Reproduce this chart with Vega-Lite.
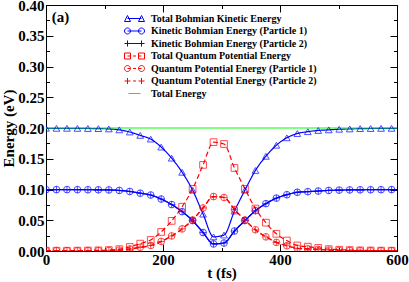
{
  "$schema": "https://vega.github.io/schema/vega-lite/v6.json",
  "width": 351,
  "height": 246,
  "autosize": {"type": "none"},
  "padding": {"left": 46, "top": 5, "right": 12, "bottom": 31},
  "datasets": {
    "energy": [
      {"t": 0, "KT": 0.1995, "K1": 0.0998, "K2": 0.0998, "QT": 0.0005, "Q1": 0.0003, "Q2": 0.0003, "E": 0.2},
      {"t": 17.9, "KT": 0.1995, "K1": 0.0998, "K2": 0.0998, "QT": 0.0005, "Q1": 0.0003, "Q2": 0.0003, "E": 0.2},
      {"t": 35.8, "KT": 0.1995, "K1": 0.0998, "K2": 0.0998, "QT": 0.0005, "Q1": 0.0003, "Q2": 0.0003, "E": 0.2},
      {"t": 53.7, "KT": 0.1994, "K1": 0.0997, "K2": 0.0997, "QT": 0.0006, "Q1": 0.0003, "Q2": 0.0003, "E": 0.2},
      {"t": 71.6, "KT": 0.1992, "K1": 0.0996, "K2": 0.0996, "QT": 0.0008, "Q1": 0.0004, "Q2": 0.0004, "E": 0.2},
      {"t": 89.5, "KT": 0.199, "K1": 0.0995, "K2": 0.0995, "QT": 0.001, "Q1": 0.0005, "Q2": 0.0005, "E": 0.2},
      {"t": 107.4, "KT": 0.1985, "K1": 0.0993, "K2": 0.0993, "QT": 0.0015, "Q1": 0.0008, "Q2": 0.0008, "E": 0.2},
      {"t": 125.3, "KT": 0.197, "K1": 0.0985, "K2": 0.0985, "QT": 0.003, "Q1": 0.0015, "Q2": 0.0015, "E": 0.2},
      {"t": 143.2, "KT": 0.1935, "K1": 0.0968, "K2": 0.0968, "QT": 0.0065, "Q1": 0.0033, "Q2": 0.0033, "E": 0.2},
      {"t": 161.1, "KT": 0.188, "K1": 0.094, "K2": 0.094, "QT": 0.012, "Q1": 0.006, "Q2": 0.006, "E": 0.2},
      {"t": 179, "KT": 0.182, "K1": 0.091, "K2": 0.091, "QT": 0.018, "Q1": 0.009, "Q2": 0.009, "E": 0.2},
      {"t": 196.9, "KT": 0.169, "K1": 0.0845, "K2": 0.0845, "QT": 0.031, "Q1": 0.0155, "Q2": 0.0155, "E": 0.2},
      {"t": 214.8, "KT": 0.151, "K1": 0.0755, "K2": 0.0755, "QT": 0.049, "Q1": 0.0245, "Q2": 0.0245, "E": 0.2},
      {"t": 232.7, "KT": 0.128, "K1": 0.064, "K2": 0.064, "QT": 0.072, "Q1": 0.036, "Q2": 0.036, "E": 0.2},
      {"t": 250.6, "KT": 0.099, "K1": 0.0495, "K2": 0.0495, "QT": 0.101, "Q1": 0.0505, "Q2": 0.0505, "E": 0.2},
      {"t": 268.5, "KT": 0.06, "K1": 0.03, "K2": 0.03, "QT": 0.14, "Q1": 0.07, "Q2": 0.07, "E": 0.2},
      {"t": 286.4, "KT": 0.023, "K1": 0.0115, "K2": 0.0115, "QT": 0.177, "Q1": 0.0885, "Q2": 0.0885, "E": 0.2},
      {"t": 304.3, "KT": 0.026, "K1": 0.013, "K2": 0.013, "QT": 0.174, "Q1": 0.087, "Q2": 0.087, "E": 0.2},
      {"t": 322.2, "KT": 0.065, "K1": 0.0325, "K2": 0.0325, "QT": 0.135, "Q1": 0.0675, "Q2": 0.0675, "E": 0.2},
      {"t": 340.1, "KT": 0.099, "K1": 0.0495, "K2": 0.0495, "QT": 0.101, "Q1": 0.0505, "Q2": 0.0505, "E": 0.2},
      {"t": 358, "KT": 0.131, "K1": 0.0655, "K2": 0.0655, "QT": 0.069, "Q1": 0.0345, "Q2": 0.0345, "E": 0.2},
      {"t": 375.9, "KT": 0.154, "K1": 0.077, "K2": 0.077, "QT": 0.046, "Q1": 0.023, "Q2": 0.023, "E": 0.2},
      {"t": 393.8, "KT": 0.172, "K1": 0.086, "K2": 0.086, "QT": 0.028, "Q1": 0.014, "Q2": 0.014, "E": 0.2},
      {"t": 411.7, "KT": 0.184, "K1": 0.0915, "K2": 0.0915, "QT": 0.017, "Q1": 0.0085, "Q2": 0.0085, "E": 0.2},
      {"t": 429.6, "KT": 0.191, "K1": 0.0955, "K2": 0.0955, "QT": 0.009, "Q1": 0.0045, "Q2": 0.0045, "E": 0.2},
      {"t": 447.5, "KT": 0.194, "K1": 0.0965, "K2": 0.0965, "QT": 0.007, "Q1": 0.0035, "Q2": 0.0035, "E": 0.2},
      {"t": 465.4, "KT": 0.196, "K1": 0.0975, "K2": 0.0975, "QT": 0.005, "Q1": 0.0025, "Q2": 0.0025, "E": 0.2},
      {"t": 483.3, "KT": 0.197, "K1": 0.0985, "K2": 0.0985, "QT": 0.003, "Q1": 0.0015, "Q2": 0.0015, "E": 0.2},
      {"t": 501.2, "KT": 0.198, "K1": 0.099, "K2": 0.099, "QT": 0.002, "Q1": 0.001, "Q2": 0.001, "E": 0.2},
      {"t": 519.1, "KT": 0.1985, "K1": 0.0993, "K2": 0.0993, "QT": 0.0015, "Q1": 0.0008, "Q2": 0.0008, "E": 0.2},
      {"t": 537, "KT": 0.199, "K1": 0.0995, "K2": 0.0995, "QT": 0.001, "Q1": 0.0005, "Q2": 0.0005, "E": 0.2},
      {"t": 554.9, "KT": 0.1992, "K1": 0.0996, "K2": 0.0996, "QT": 0.0008, "Q1": 0.0004, "Q2": 0.0004, "E": 0.2},
      {"t": 572.8, "KT": 0.1994, "K1": 0.0997, "K2": 0.0997, "QT": 0.0006, "Q1": 0.0003, "Q2": 0.0003, "E": 0.2},
      {"t": 590.7, "KT": 0.1995, "K1": 0.0998, "K2": 0.0998, "QT": 0.0005, "Q1": 0.0003, "Q2": 0.0003, "E": 0.2},
      {"t": 600, "KT": 0.1995, "K1": 0.0998, "K2": 0.0998, "QT": 0.0005, "Q1": 0.0003, "Q2": 0.0003, "E": 0.2}
    ],
    "names": [
      {"key": "KT", "series": "Total Bohmian Kinetic Energy"},
      {"key": "K1", "series": "Kinetic Bohmian Energy (Particle 1)"},
      {"key": "K2", "series": "Kinetic Bohmian Energy (Particle 2)"},
      {"key": "QT", "series": "Total Quantum Potential Energy"},
      {"key": "Q1", "series": "Quantum Potential Energy (Particle 1)"},
      {"key": "Q2", "series": "Quantum Potential Energy (Particle 2)"},
      {"key": "E", "series": "Total Energy"}
    ],
    "panel": [
      {"label": "(a)", "t": 10, "E": 0.381}
    ]
  },
  "layer": [
    {
      "data": {"name": "energy"},
      "transform": [
        {"fold": ["KT", "K1", "K2", "QT", "Q1", "Q2", "E"], "as": ["key", "value"]}
      ],
      "mark": {"type": "line", "strokeWidth": 1.2, "interpolate": "monotone", "clip": true},
      "encoding": {
        "x": {
          "field": "t", "type": "quantitative",
          "scale": {"domain": [0, 600], "nice": false, "zero": false},
          "axis": {"orient": "bottom", "ticks": false, "values": [0, 200, 400, 600], "format": "d", "labelPadding": 1, "labelFlush": false, "labelOverlap": false, "labelBound": false, "title": "t (fs)", "titleY": 21, "titleBaseline": "middle"}
        },
        "y": {
          "field": "value", "type": "quantitative",
          "scale": {"domain": [0, 0.4], "nice": false},
          "axis": {"orient": "left", "ticks": false, "values": [0, 0.05, 0.1, 0.15, 0.2, 0.25, 0.3, 0.35, 0.4], "format": ".2f", "labelPadding": 2, "labelFlush": false, "labelOverlap": false, "labelBound": false, "title": "Energy (eV)", "titlePadding": 1}
        },
        "color": {
          "field": "key", "type": "nominal", "legend": null,
          "scale": {"domain": ["KT", "K1", "K2", "QT", "Q1", "Q2", "E"], "range": ["#0000ff", "#0000ff", "#0000ff", "#ff0000", "#ff0000", "#ff0000", "#00ff00"]}
        },
        "strokeDash": {
          "field": "key", "type": "nominal", "legend": null,
          "scale": {"domain": ["KT", "K1", "K2", "QT", "Q1", "Q2", "E"], "range": [[1, 0], [1, 0], [1, 0], [5, 3], [5, 3], [5, 3], [1, 0]]}
        }
      }
    },
    {
      "data": {"name": "energy"},
      "transform": [
        {"fold": ["KT", "K1", "K2", "QT", "Q1", "Q2"], "as": ["key", "value"]},
        {"filter": "datum.t < 600"}
      ],
      "mark": {"type": "point", "filled": false, "size": 45, "strokeWidth": 1, "clip": true},
      "encoding": {
        "x": {
          "field": "t", "type": "quantitative",
          "scale": {"domain": [0, 600], "nice": false, "zero": false},
          "axis": {"orient": "top", "labels": false, "title": null, "domain": false, "values": [0, 100, 200, 300, 400, 500, 600],
                   "tickSize": {"condition": {"test": "datum.value % 200 == 0", "value": -7}, "value": -3.5}}
        },
        "y": {
          "field": "value", "type": "quantitative",
          "scale": {"domain": [0, 0.4], "nice": false},
          "axis": {"orient": "right", "labels": false, "title": null, "domain": false,
                   "values": [0, 0.025, 0.05, 0.075, 0.1, 0.125, 0.15, 0.175, 0.2, 0.225, 0.25, 0.275, 0.3, 0.325, 0.35, 0.375, 0.4],
                   "tickSize": {"condition": {"test": "round(datum.value * 1000) % 50 == 0", "value": -7}, "value": -3.5}}
        },
        "color": {
          "field": "key", "type": "nominal", "legend": null,
          "scale": {"domain": ["KT", "K1", "K2", "QT", "Q1", "Q2"], "range": ["#0000ff", "#0000ff", "#0000ff", "#ff0000", "#ff0000", "#ff0000"]}
        },
        "shape": {
          "field": "key", "type": "nominal", "legend": null,
          "scale": {"domain": ["KT", "K1", "K2", "QT", "Q1", "Q2"], "range": ["triangle-up", "circle", "M-1,0L1,0M0,-1L0,1", "square", "circle", "M-1,0L1,0M0,-1L0,1"]}
        }
      }
    },
    {
      "data": {"name": "panel"},
      "mark": {"type": "text", "font": "Liberation Serif", "fontWeight": "bold", "fontSize": 15, "align": "left", "baseline": "middle", "color": "black"},
      "encoding": {
        "text": {"field": "label"},
        "x": {
          "field": "t", "type": "quantitative",
          "scale": {"domain": [0, 600], "nice": false, "zero": false},
          "axis": {"orient": "bottom", "labels": false, "title": null, "domain": false, "values": [0, 100, 200, 300, 400, 500, 600],
                   "tickSize": {"condition": {"test": "datum.value % 200 == 0", "value": -7}, "value": -3.5}}
        },
        "y": {
          "field": "E", "type": "quantitative",
          "scale": {"domain": [0, 0.4], "nice": false},
          "axis": {"orient": "left", "labels": false, "title": null, "domain": false,
                   "values": [0, 0.025, 0.05, 0.075, 0.1, 0.125, 0.15, 0.175, 0.2, 0.225, 0.25, 0.275, 0.3, 0.325, 0.35, 0.375, 0.4],
                   "tickSize": {"condition": {"test": "round(datum.value * 1000) % 50 == 0", "value": -7}, "value": -3.5}}
        }
      }
    },
    {
      "data": {"name": "names"},
      "mark": {"type": "point", "filled": false, "opacity": 0},
      "encoding": {
        "color": {
          "field": "series", "type": "nominal",
          "scale": {
            "domain": ["Total Bohmian Kinetic Energy", "Kinetic Bohmian Energy (Particle 1)", "Kinetic Bohmian Energy (Particle 2)", "Total Quantum Potential Energy", "Quantum Potential Energy (Particle 1)", "Quantum Potential Energy (Particle 2)", "Total Energy"],
            "range": ["#0000ff", "#0000ff", "#0000ff", "#ff0000", "#ff0000", "#ff0000", "#00ff00"]
          },
          "legend": {"title": null, "orient": "none", "legendX": 83, "legendY": 8, "symbolSize": 100, "symbolStrokeWidth": 1, "symbolOpacity": 1, "symbolFillColor": "transparent", "labelFont": "Liberation Serif", "labelFontWeight": "bold", "labelFontSize": 10, "labelColor": "black", "labelOffset": 11, "rowPadding": 1.5, "padding": 0, "labelLimit": 0}
        },
        "shape": {
          "field": "series", "type": "nominal",
          "scale": {
            "domain": ["Total Bohmian Kinetic Energy", "Kinetic Bohmian Energy (Particle 1)", "Kinetic Bohmian Energy (Particle 2)", "Total Quantum Potential Energy", "Quantum Potential Energy (Particle 1)", "Quantum Potential Energy (Particle 2)", "Total Energy"],
            "range": [
              "M-2,0.6L-1.4,-0.6L-0.8,0.6ZM-1.4,0L1.4,0M0.8,0.6L1.4,-0.6L2,0.6Z",
              "M-0.8,0A0.6,0.6 0 1 1 -2,0A0.6,0.6 0 1 1 -0.8,0ZM-1.4,0L1.4,0M2,0A0.6,0.6 0 1 1 0.8,0A0.6,0.6 0 1 1 2,0Z",
              "M-2,0L2,0M-1.4,-0.6L-1.4,0.6M1.4,-0.6L1.4,0.6",
              "M-2,-0.6L-0.8,-0.6L-0.8,0.6L-2,0.6ZM-1.4,0L-0.8,0M-0.3,0L0.3,0M0.8,0L1.4,0M0.8,-0.6L2,-0.6L2,0.6L0.8,0.6Z",
              "M-0.8,0A0.6,0.6 0 1 1 -2,0A0.6,0.6 0 1 1 -0.8,0ZM-1.4,0L-0.8,0M-0.3,0L0.3,0M0.8,0L1.4,0M2,0A0.6,0.6 0 1 1 0.8,0A0.6,0.6 0 1 1 2,0Z",
              "M-2,0L-0.8,0M-1.4,-0.6L-1.4,0.6M-0.3,0L0.3,0M0.8,0L2,0M1.4,-0.6L1.4,0.6",
              "M-1.2,0L1.2,0"
            ]
          },
          "legend": {"title": null, "orient": "none", "legendX": 83, "legendY": 8, "symbolSize": 100, "symbolStrokeWidth": 1, "symbolOpacity": 1, "symbolFillColor": "transparent", "labelFont": "Liberation Serif", "labelFontWeight": "bold", "labelFontSize": 10, "labelColor": "black", "labelOffset": 11, "rowPadding": 1.5, "padding": 0, "labelLimit": 0}
        }
      }
    }
  ],
  "resolve": {
    "scale": {"color": "independent", "shape": "independent", "strokeDash": "independent"},
    "axis": {"x": "independent", "y": "independent"}
  },
  "config": {
    "view": {"stroke": "black", "strokeWidth": 1},
    "font": "Liberation Serif",
    "axis": {
      "grid": false, "domainColor": "black", "tickColor": "black", "tickWidth": 1,
      "labelFont": "Liberation Serif", "labelFontWeight": "bold", "labelFontSize": 15, "labelColor": "black",
      "titleFont": "Liberation Serif", "titleFontWeight": "bold", "titleFontSize": 15, "titleColor": "black"
    }
  }
}
